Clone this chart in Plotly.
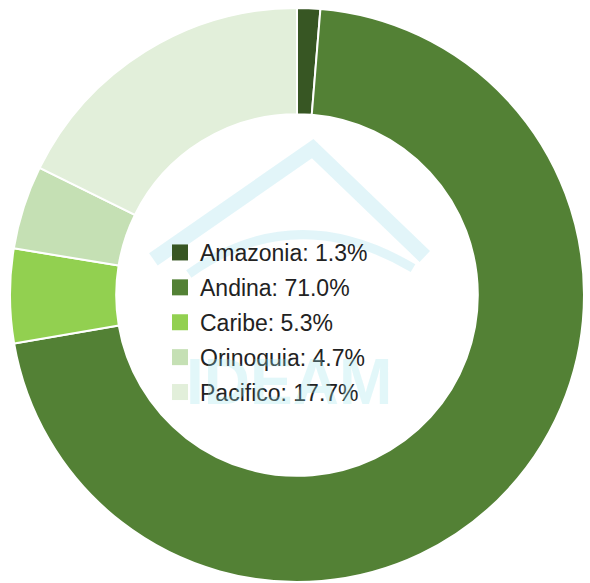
import plotly.graph_objects as go

# Share of records by natural region of Colombia
regions = ["Amazonia", "Andina", "Caribe", "Orinoquia", "Pacifico"]
shares = [1.3, 71.0, 5.3, 4.7, 17.7]
colors = ["#375623", "#538135", "#92d050", "#c5e0b4", "#e2efda"]

W, H = 590, 583

fig = go.Figure()

fig.add_trace(go.Pie(
    labels=regions,
    values=shares,
    marker=dict(colors=colors, line=dict(color="white", width=2)),
    hole=0.63,
    sort=False,
    direction="clockwise",
    rotation=0,
    textinfo="none",
    hoverinfo="label+percent",
    showlegend=False,
    domain=dict(x=[10 / W, 584 / W], y=[0, 576 / H]),
))

# Legend entries shown inside the hole ("Region: share%")
for name, val, col in zip(regions, shares, colors):
    fig.add_trace(go.Scatter(
        x=[None], y=[None],
        mode="markers",
        marker=dict(symbol="square", size=16, color=col),
        name=f"{name}: {val:.1f}%",
        legendgroup=name,
        showlegend=True,
        hoverinfo="skip",
    ))

# Faint logo watermark behind the legend
wm = "rgba(150, 220, 235, 0.28)"
fig.add_shape(type="path", xref="paper", yref="paper", layer="below",
              path="M 0.26,0.555 L 0.53,0.745 L 0.72,0.56",
              line=dict(color=wm, width=15))
fig.add_shape(type="path", xref="paper", yref="paper", layer="below",
              path="M 0.32,0.53 Q 0.50,0.66 0.70,0.54",
              line=dict(color=wm, width=9))
fig.add_annotation(text="<b>IDEAM</b>", xref="paper", yref="paper",
                   x=0.49, y=0.345, showarrow=False,
                   font=dict(family="Liberation Sans", size=64,
                             color="rgba(150, 225, 235, 0.28)"))

fig.update_layout(
    width=W, height=H,
    margin=dict(l=0, r=0, t=0, b=0),
    paper_bgcolor="white",
    plot_bgcolor="rgba(0,0,0,0)",
    xaxis=dict(visible=False),
    yaxis=dict(visible=False),
    legend=dict(
        x=160 / W, y=(H - 231) / H,
        xanchor="left", yanchor="top",
        bgcolor="rgba(0,0,0,0)",
        font=dict(family="Liberation Sans", size=23, color="#222222"),
        tracegroupgap=2,
        itemsizing="trace",
    ),
)

fig.write_html("out.html")
